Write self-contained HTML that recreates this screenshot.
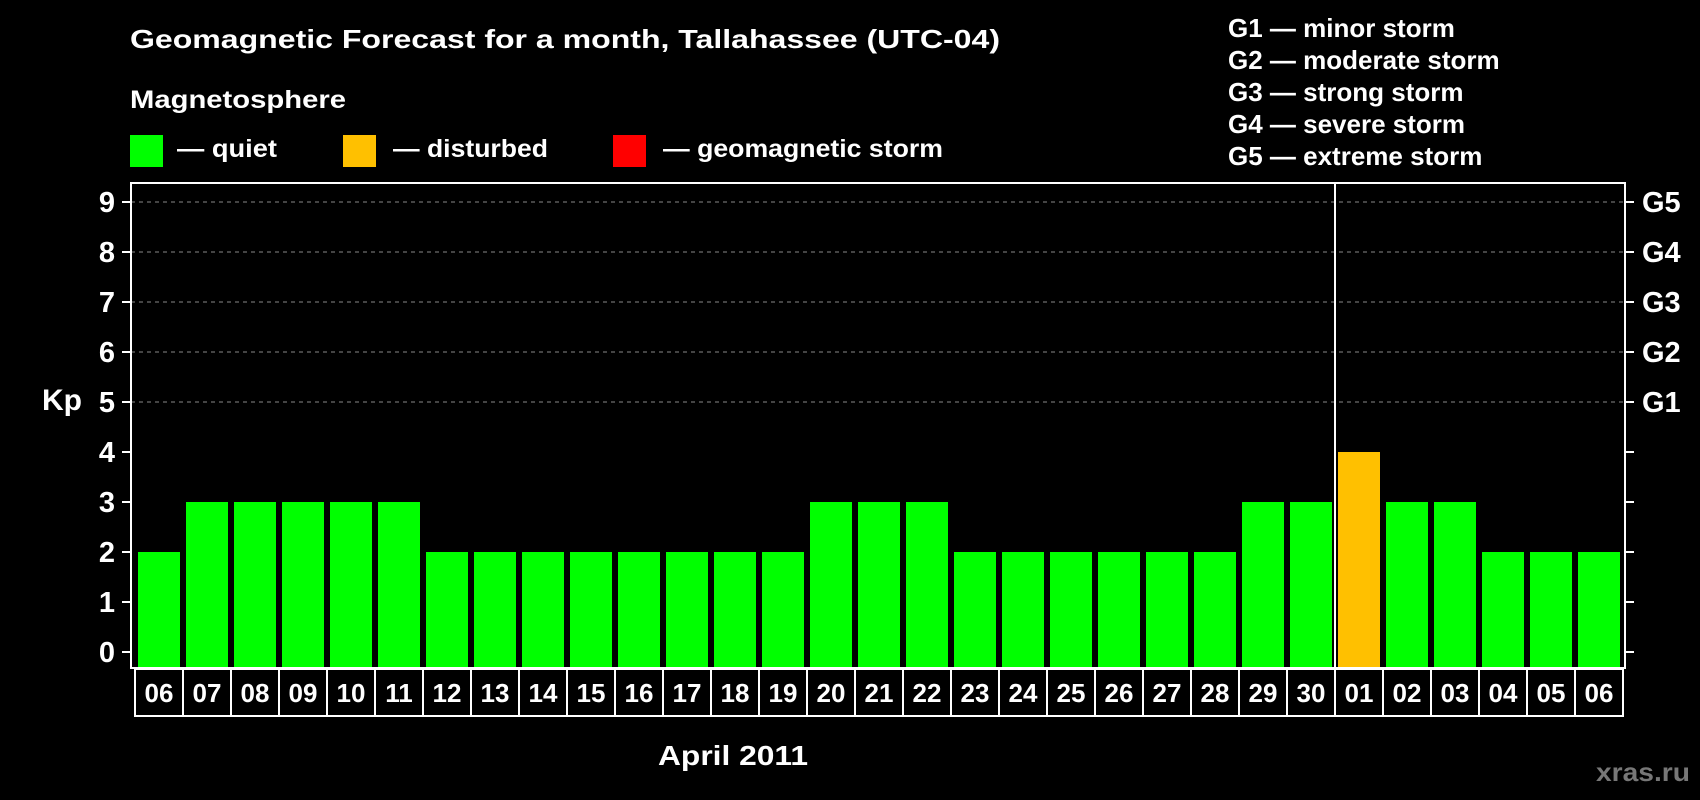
<!DOCTYPE html>
<html><head><meta charset="utf-8"><title>Geomagnetic Forecast</title>
<style>
html,body{margin:0;padding:0;background:#000;}
svg{display:block;font-family:"Liberation Sans",sans-serif;font-weight:bold;}
</style></head>
<body>
<svg id="chart" width="1700" height="800" viewBox="0 0 1700 800" xmlns="http://www.w3.org/2000/svg">
<rect width="1700" height="800" fill="#000"/>
<text x="130" y="48" fill="#fff" font-size="26" textLength="870" lengthAdjust="spacingAndGlyphs">Geomagnetic Forecast for a month, Tallahassee (UTC-04)</text>
<text x="130" y="108" fill="#fff" font-size="25" textLength="216" lengthAdjust="spacingAndGlyphs">Magnetosphere</text>
<rect x="130" y="135" width="33" height="32" fill="#00ff00"/>
<text x="177" y="157" fill="#fff" font-size="25" textLength="100" lengthAdjust="spacingAndGlyphs">— quiet</text>
<rect x="343" y="135" width="33" height="32" fill="#ffc000"/>
<text x="393" y="157" fill="#fff" font-size="25" textLength="155" lengthAdjust="spacingAndGlyphs">— disturbed</text>
<rect x="613" y="135" width="33" height="32" fill="#ff0000"/>
<text x="663" y="157" fill="#fff" font-size="25" textLength="280" lengthAdjust="spacingAndGlyphs">— geomagnetic storm</text>
<g fill="#fff" font-size="26">
<text x="1228" y="37">G1 — minor storm</text>
<text x="1228" y="69">G2 — moderate storm</text>
<text x="1228" y="101">G3 — strong storm</text>
<text x="1228" y="133">G4 — severe storm</text>
<text x="1228" y="165">G5 — extreme storm</text>
</g>
<text x="42" y="410" fill="#fff" font-size="30">Kp</text>
<g id="grid"></g>
<g id="bars"></g>
<rect x="131" y="183" width="1494" height="485" fill="none" stroke="#fff" stroke-width="2"/>
<line x1="1335" y1="183" x2="1335" y2="716" stroke="#fff" stroke-width="2"/>
<g id="xlabels"></g>
<text x="733" y="765" fill="#fff" font-size="28" text-anchor="middle" textLength="150" lengthAdjust="spacingAndGlyphs">April 2011</text>
<text x="1690" y="781" fill="#777" font-size="26" text-anchor="end" textLength="94" lengthAdjust="spacingAndGlyphs">xras.ru</text>
</svg>
<script>
const days = ["06","07","08","09","10","11","12","13","14","15","16","17","18","19","20","21","22","23","24","25","26","27","28","29","30","01","02","03","04","05","06"];
const kp = [2,3,3,3,3,3,2,2,2,2,2,2,2,2,3,3,3,2,2,2,2,2,2,3,3,4,3,3,2,2,2];
const yTicks = [0,1,2,3,4,5,6,7,8,9];
const gLabels = ["G1","G2","G3","G4","G5"];
const gLevels = [5,6,7,8,9];

const NS = "http://www.w3.org/2000/svg";
const x0 = 135, slot = 48, barW = 42;
function yScale(v){ return 652 - v * 50; }
function xSlot(i){ return x0 + i*slot; }
function mk(tag, attrs, parent){ const e=document.createElementNS(NS,tag); for(const k in attrs) e.setAttribute(k,attrs[k]); parent.appendChild(e); return e; }
function colorFor(v){ return v>=5 ? "#ff0000" : (v>=4 ? "#ffc000" : "#00ff00"); }

const grid = document.getElementById("grid");
yTicks.forEach(t=>{
  const y = yScale(t);
  if (t>=5) {
    const gl = mk("line",{x1:131,x2:1625,y1:y,y2:y,stroke:"#888","stroke-width":1,"stroke-dasharray":"4,4"},grid);
    
    
  }
  const lt = mk("line",{x1:122,x2:131,y1:y,y2:y,stroke:"#fff","stroke-width":2},grid);
  
  
  const rt = mk("line",{x1:1625,x2:1634,y1:y,y2:y,stroke:"#fff","stroke-width":2},grid);
  
  
  const tx = mk("text",{x:115,y:y+10,fill:"#fff","font-size":29,"text-anchor":"end"},grid);
  tx.textContent = t;
  
  
});
gLabels.forEach((g,i)=>{
  const tx = mk("text",{x:1642,y:yScale(gLevels[i])+10,fill:"#fff","font-size":29},grid);
  tx.textContent = g;
  
  
});

const bars = document.getElementById("bars");
kp.forEach((v,i)=>{
  const y = yScale(v);
  const r = mk("rect",{x:xSlot(i)+3,y:y,width:barW,height:668-y,fill:colorFor(v)},bars);
  
  
});

const xl = document.getElementById("xlabels");
days.forEach((d,i)=>{
  const b = mk("rect",{x:xSlot(i),y:669,width:slot,height:47,fill:"#000",stroke:"#fff","stroke-width":2},xl);
  
  
  const t = mk("text",{x:xSlot(i)+slot/2,y:702,fill:"#fff","font-size":26,"text-anchor":"middle"},xl);
  t.textContent = d;
  
  
});
</script>
</body></html>
